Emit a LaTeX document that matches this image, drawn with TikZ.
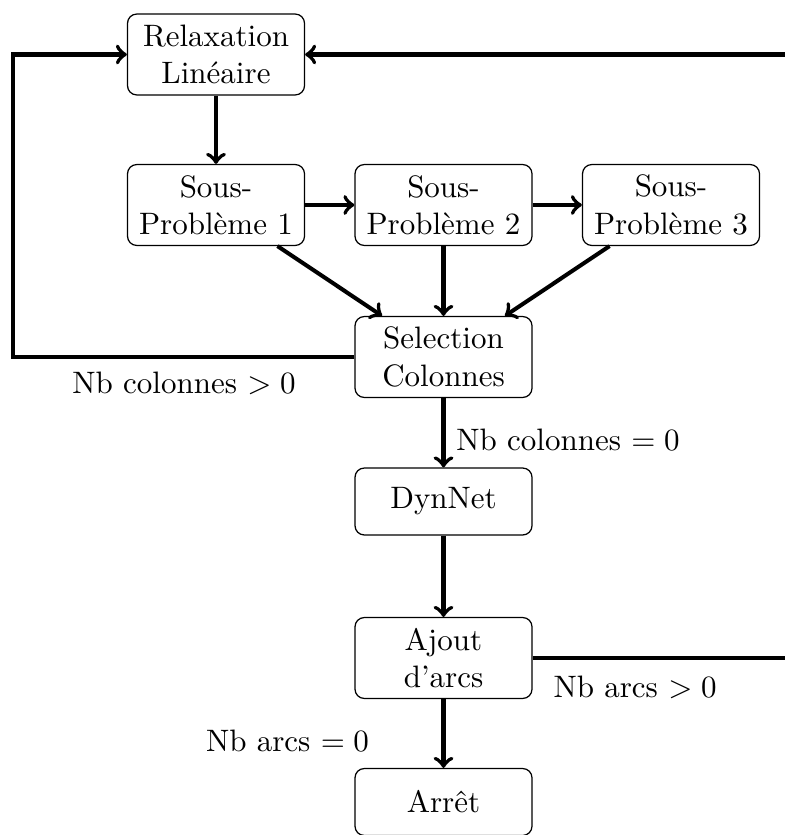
\documentclass[tikz,border=0pt]{standalone}
\begin{document}
\begin{tikzpicture}[x=0.32258pt,y=-0.32258pt,
  box/.style={draw, line width=0.4pt, rounded corners=3pt, minimum width=57.1pt, align=center, inner ysep=2pt},
  twol/.style={box, minimum height=26.1pt},
  onel/.style={box, minimum height=21.6pt},
  arr/.style={->, line width=1.3pt},
  lbl/.style={inner sep=0pt}]
\useasboundingbox (0,0) rectangle (784,835);
\node[twol] (rl) at (216,54.5) {Relaxation\\Linéaire};
\node[twol] (sp1) at (216,205) {Sous-\\Problème 1};
\node[twol] (sp2) at (443.5,205) {Sous-\\Problème 2};
\node[twol] (sp3) at (671,205) {Sous-\\Problème 3};
\node[twol] (sc) at (443.5,357) {Selection\\Colonnes};
\node[onel] (dn) at (443.5,501.5) {DynNet};
\node[twol] (aa) at (443.5,658) {Ajout\\d'arcs};
\node[onel] (ar) at (443.5,802) {Arrêt};
\coordinate (lx) at (13,0);
\coordinate (rx) at (788,0);
\node[lbl] (l1) at (184,383) {Nb colonnes $>0$};
\node[lbl] (l2) at (568,440) {Nb colonnes $=0$};
\node[lbl] (l3) at (635,687) {Nb arcs $>0$};
\node[lbl] (l4) at (287.5,741) {Nb arcs $=0$};
\draw[arr] (rl) -- (sp1);
\draw[arr] (sp1) -- (sp2);
\draw[arr] (sp2) -- (sp3);
\draw[arr] (sp1) -- (sc);
\draw[arr] (sp2) -- (sc);
\draw[arr] (sp3) -- (sc);
\draw[arr] (sc) -- (dn);
\draw[arr] (dn) -- (aa);
\draw[arr] (aa) -- (ar);
\draw[arr] (sc.west) -- (sc.west -| lx) -- (rl.west -| lx) -- (rl.west);
\draw[arr] (aa.east) -- (aa.east -| rx) -- (rl.east -| rx) -- (rl.east);
\end{tikzpicture}
\end{document}
